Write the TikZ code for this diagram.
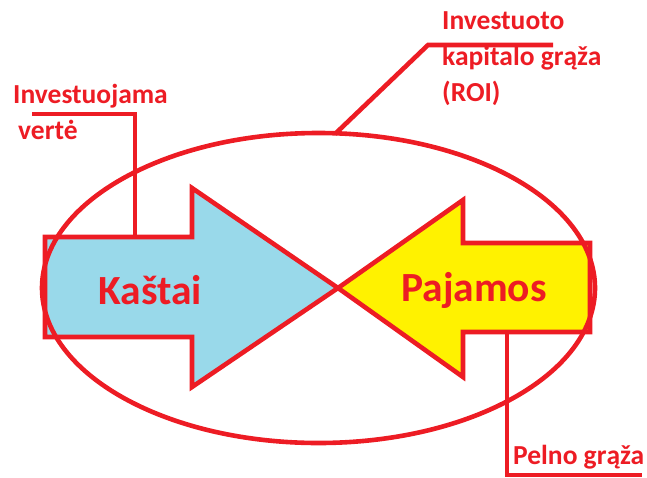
\documentclass[tikz,border=0pt]{standalone}
\usepackage{fontspec}
\setmainfont{Carlito}
\definecolor{pred}{HTML}{ED1C24}
\definecolor{pblue}{HTML}{99D9EA}
\definecolor{pyellow}{HTML}{FFF200}
\begin{document}
\begin{tikzpicture}[x=1pt,y=-1pt,
  redline/.style={draw=pred,line width=4.6pt,line join=miter},
  lbl/.style={text=pred,font=\fontsize{27.5}{36}\selectfont\bfseries,inner sep=0pt,align=left},
  big/.style={text=pred,font=\fontsize{41.5}{48}\selectfont\bfseries,inner sep=0pt}]
\useasboundingbox (0,0) rectangle (647,477);
% arrows
\path[redline,fill=pblue] (45,237) coordinate (kTL) -- (192,237) -- (192,188) -- (338,288) coordinate (tip)
  -- (192,387) -- (192,337) -- (45,337) -- cycle;
\path[redline,fill=pyellow] (590,243) -- (463,243) -- (463,200) -- (338,288)
  -- (463,377) -- (463,332) -- (590,332) -- cycle;
\coordinate (kTop) at (135,237);
\coordinate (pBot) at (507,332);
% ellipse
\draw[pred,line width=4.6pt] (318.5,288) ellipse [x radius=276.5, y radius=155];
\coordinate (eTop) at (335,134);
% texts
\node[big] (kastai) at (150,290) {Kaštai};
\node[big] (pajamos) at (474,290) {Pajamos};
\node[lbl,anchor=north west] (inv) at (13,84) {Investuojama\\ \hspace*{5pt}vertė};
\node[lbl,anchor=north west] (roi) at (442,11) {Investuoto\\kapitalo grąža\\(ROI)};
\node[lbl,anchor=south west] (pelno) at (513,469) {Pelno grąža};
% connectors
\coordinate (invL) at (32,114);
\coordinate (invC) at (135,114);
\draw[redline] (invL) -- (invC) -- (kTop);
\coordinate (roiR) at (553,45);
\coordinate (roiC) at (428,45);
\draw[redline] (roiR) -- (roiC) -- (eTop);
\coordinate (pelC) at (507,475);
\coordinate (pelR) at (642,475);
\draw[redline] (pBot) -- (pelC) -- (pelR);
\end{tikzpicture}
\end{document}
